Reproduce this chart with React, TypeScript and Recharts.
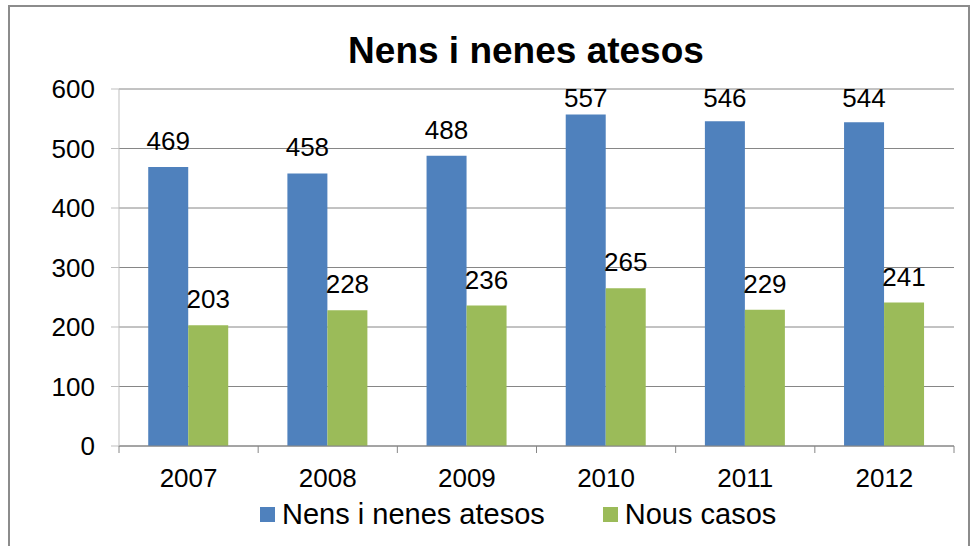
import { Bar, BarChart, CartesianGrid, LabelList, Legend, XAxis, YAxis } from "recharts"

const YEARS = ["2007", "2008", "2009", "2010", "2011", "2012"]
const ATESOS = [469, 458, 488, 557, 546, 544]
const NOUS_CASOS = [203, 228, 236, 265, 229, 241]
const Y_TICKS = [0, 100, 200, 300, 400, 500, 600]

const SERIES_NAMES = ["Nens i nenes atesos", "Nous casos"]
const BLUE = "#4f81bd"
const GREEN = "#9bbb59"
const GRID = "#868686"
const LIGHT_AXIS = "#bfbfbf"
const FONT = "'Liberation Sans', Arial, sans-serif"

const data = YEARS.map((year, i) => ({ year, atesos: ATESOS[i], nous: NOUS_CASOS[i] }))

function YearTick(props: any) {
  const { x, y, payload, index, visibleTicksCount } = props
  const half = payload?.offset ?? 0
  const axisY = y - 23
  const last = index === (visibleTicksCount ?? YEARS.length) - 1
  return (
    <g>
      <line x1={x - half} x2={x - half} y1={axisY} y2={axisY + 7} stroke={GRID} />
      {last && <line x1={x + half} x2={x + half} y1={axisY} y2={axisY + 7} stroke={GRID} />}
      <text x={x} y={y} dy="0.71em" textAnchor="middle" fontSize={26} fill="#000" fontFamily={FONT}>
        {payload.value}
      </text>
    </g>
  )
}

function ValueLabel(props: any) {
  const { x, y, width, value } = props
  // Excel keeps the labels of the tallest bars from running into the title
  const baseline = Math.max(y - 17, 107)
  return (
    <text x={x + width / 2} y={baseline} textAnchor="middle" fontSize={26} fill="#000" fontFamily={FONT}>
      {value}
    </text>
  )
}

function LegendBox() {
  const colors = [BLUE, GREEN]
  return (
    <div
      style={{
        height: 37,
        display: "flex",
        alignItems: "center",
        paddingLeft: 260,
        fontFamily: FONT,
        fontSize: 29,
        color: "#000",
      }}
    >
      {SERIES_NAMES.map((name, i) => (
        <div key={name} style={{ display: "flex", alignItems: "center", marginRight: i === 0 ? 58 : 0 }}>
          <span style={{ width: 15, height: 15, background: colors[i], marginRight: 7, display: "inline-block" }} />
          <span style={{ whiteSpace: "nowrap" }}>{name}</span>
        </div>
      ))}
    </div>
  )
}

export default function App() {
  return (
    <div style={{ position: "absolute", left: 0, top: 0, width: 971, height: 546, overflow: "hidden", background: "#fff" }}>
      <div
        style={{
          position: "absolute",
          left: 8,
          top: 5,
          width: 962,
          height: 600,
          boxSizing: "border-box",
          border: "2px solid #8c8c8c",
        }}
      />
      <div
        style={{
          position: "absolute",
          left: 526,
          top: 32,
          transform: "translateX(-50%)",
          fontFamily: FONT,
          fontWeight: "bold",
          fontSize: 37,
          lineHeight: 1,
          whiteSpace: "nowrap",
          color: "#000",
        }}
      >
        Nens i nenes atesos
      </div>
      <BarChart
        width={971}
        height={546}
        data={data}
        margin={{ top: 89, right: 17, left: 0, bottom: 13 }}
        barCategoryGap="21%"
        barGap={0}
        style={{ position: "absolute", left: 0, top: 0 }}
      >
        <CartesianGrid vertical={false} stroke={GRID} />
        <XAxis
          dataKey="year"
          height={50}
          tickSize={7}
          tickMargin={16}
          tickLine={false}
          axisLine={{ stroke: GRID }}
          tick={<YearTick />}
          interval={0}
        />
        <YAxis
          width={119}
          domain={[0, 600]}
          ticks={Y_TICKS}
          tickSize={8}
          tickMargin={16}
          tickLine={{ stroke: LIGHT_AXIS }}
          axisLine={{ stroke: LIGHT_AXIS }}
          tick={{ fontSize: 26, fill: "#000", fontFamily: FONT }}
        />
        <YAxis
          yAxisId="r"
          orientation="right"
          width={0}
          domain={[0, 600]}
          tick={false}
          tickLine={false}
          axisLine={{ stroke: GRID }}
        />
        <Legend verticalAlign="bottom" content={<LegendBox />} wrapperStyle={{ left: 0, width: 971 }} />
        <Bar dataKey="atesos" name={SERIES_NAMES[0]} fill={BLUE} isAnimationActive={false}>
          <LabelList dataKey="atesos" content={<ValueLabel />} />
        </Bar>
        <Bar dataKey="nous" name={SERIES_NAMES[1]} fill={GREEN} isAnimationActive={false}>
          <LabelList dataKey="nous" content={<ValueLabel />} />
        </Bar>
      </BarChart>
    </div>
  )
}
